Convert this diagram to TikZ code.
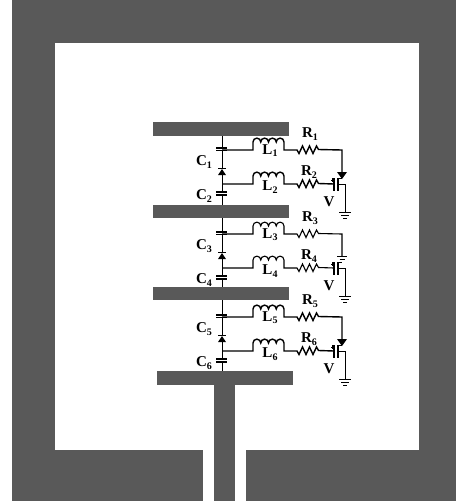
\documentclass[tikz,border=0pt]{standalone}
\usepackage{fontspec}
\setmainfont{Liberation Serif}
\definecolor{metal}{HTML}{595959}
\newcommand{\sublab}[2]{\textbf{#1}\raisebox{-2.4pt}{\fontsize{10}{10}\selectfont\textbf{#2}}}
\tikzset{
  x=1pt,y=-1pt,
  plate/.style={fill=metal,draw=none,inner sep=0pt,outer sep=0pt,minimum width=#1,rectangle},
  plate/.default=136pt,
  wire/.style={draw=black,line width=#1,line join=miter},
  wire/.default=1.1pt,
  capplate/.style={draw=black,line width=1.1pt},
  lab/.style={font=\fontsize{15}{16}\selectfont,inner sep=0pt,text=black},
  lbl/.style={font=\fontsize{15}{16}\selectfont\bfseries,inner sep=0pt,text=black},
}
\begin{document}
\begin{tikzpicture}
\useasboundingbox (0,0) rectangle (456,501);
\fill[white] (0,0) rectangle (456,501);
% ground plane
\fill[metal] (12,0) rectangle (456,501);
\fill[white] (55,43) rectangle (419,450);
\fill[white] (203,450) rectangle (246,501);
% plates and feed
\node[plate,minimum height=14pt,anchor=north west] (plateA) at (153,122) {};
\node[plate,minimum height=13pt,anchor=north west] (plateB) at (153,205) {};
\node[plate,minimum height=13pt,anchor=north west] (plateC) at (153,287) {};
\node[plate,minimum height=14pt,anchor=north west] (plateD) at (157,371) {};
\node[plate=21pt,minimum height=116pt,anchor=north west] (feed) at (214,385) {};
% repeated cell
\foreach \dy/\top/\bot/\lw/\ca/\cb/\ra/\rb/\la/\lb in
  {0/plateA/plateB/1.4pt/1/2/1/2/1/2,
   84/plateB/plateC/1.1pt/3/4/3/4/3/4,
   167/plateC/plateD/1.4pt/5/6/5/6/5/6}{
\begin{scope}[shift={(0,\dy)}]
  \coordinate (capT) at (222,148);
  \coordinate (capM) at (222,150);
  \coordinate (diodeT) at (222,168);
  \coordinate (diodeB) at (222,175);
  \coordinate (junc) at (222,184);
  \coordinate (capN) at (222,192);
  \coordinate (capB) at (222,195);
  \coordinate (indA) at (253,150);
  \coordinate (indB) at (253,184);
  \coordinate (resA) at (297,150);
  \coordinate (resB) at (297,184);
  \coordinate (gate) at (334,184);
  \coordinate (srcTop) at (342,172);
  \coordinate (drain) at (338,184);
  \coordinate (gnd) at (345,212);
  % spine
  \draw[wire=0.8pt] (capT |- \top.south) -- (capT);
  \draw[wire=0.8pt] (capM) -- (diodeT);
  \draw[wire=0.8pt] (diodeB) -- (capN);
  \draw[wire=0.8pt] (capB) -- (capB |- \bot.north);
  % capacitors
  \draw[capplate] (216,148) -- (227,148) (216,150.5) -- (227,150.5);
  \draw[capplate] (216,192) -- (227,192) (216,195) -- (227,195);
  % diode
  \fill[black] (218,175) -- (226,175) -- (222,169) -- cycle;
  \draw[line width=1pt] (218,168.5) -- (226,168.5);
  % upper branch
  \draw[wire=\lw] (capM) -- (indA) -- (253,142)
     arc[start angle=180,end angle=360,radius=3.875]
     arc[start angle=180,end angle=360,radius=3.875]
     arc[start angle=180,end angle=360,radius=3.875]
     arc[start angle=180,end angle=360,radius=3.875]
     -- (284,150) -- (resA)
     -- ++(2,3.5) -- ++(3.5,-7.5) -- ++(3.5,7.5) -- ++(3.5,-7.5) -- ++(3.5,7.5) -- ++(3.5,-7.5) -- ++(2,3.5)
     -- (342,150) -- (srcTop);
  % lower branch
  \draw[wire=\lw] (junc) -- (indB) -- (253,176)
     arc[start angle=180,end angle=360,radius=3.875]
     arc[start angle=180,end angle=360,radius=3.875]
     arc[start angle=180,end angle=360,radius=3.875]
     arc[start angle=180,end angle=360,radius=3.875]
     -- (284,184) -- (resB)
     -- ++(2,3.5) -- ++(3.5,-7.5) -- ++(3.5,7.5) -- ++(3.5,-7.5) -- ++(3.5,7.5) -- ++(3.5,-7.5) -- ++(2,3.5)
     -- (gate);
  % transistor
  \draw[wire=1.1pt] (334,178) -- (334,191);
  \draw[wire=1.1pt] (338,178) -- (338,191);
  \draw[wire=0.9pt] (drain) -- (345,184) -- (gnd);
  \draw[wire=0.9pt] (338,178) -- (342,178);
  \draw[wire=0.7pt] (331,180) -- (334.5,180) (332.8,178) -- (332.8,182);
  % ground
  \draw[wire=1pt] (339,212) -- (351,212);
  \draw[wire=1pt] (341,215) -- (349,215);
  \draw[wire=1pt] (343,218) -- (347,218);
  % labels
  \node[lab] (cA\ca) at (204,162) {\sublab{C}{\ca}};
  \node[lab] (cB\cb) at (204,196) {\sublab{C}{\cb}};
  \node[lab] (rA\ra) at (310,134) {\sublab{R}{\ra}};
  \node[lab] (rB\rb) at (309,172) {\sublab{R}{\rb}};
  \node[lab] (lA\la) at (270,150.5) {\sublab{L}{\la}};
  \node[lab] (lB\lb) at (270,187) {\sublab{L}{\lb}};
  \node[lbl] (v\ca) at (329,202) {V};
\end{scope}
}
% source terminals: arrow heads on the outer cells, bars on the middle one
\fill[black] (337,172) -- (347,172) -- (342,179) -- cycle;
\fill[black] (337,339) -- (347,339) -- (342,346) -- cycle;
\draw[wire=1.2pt] (337,256.5) -- (347,256.5);
\draw[wire=1pt] (339.5,259.5) -- (344.5,259.5);
\end{tikzpicture}
\end{document}
